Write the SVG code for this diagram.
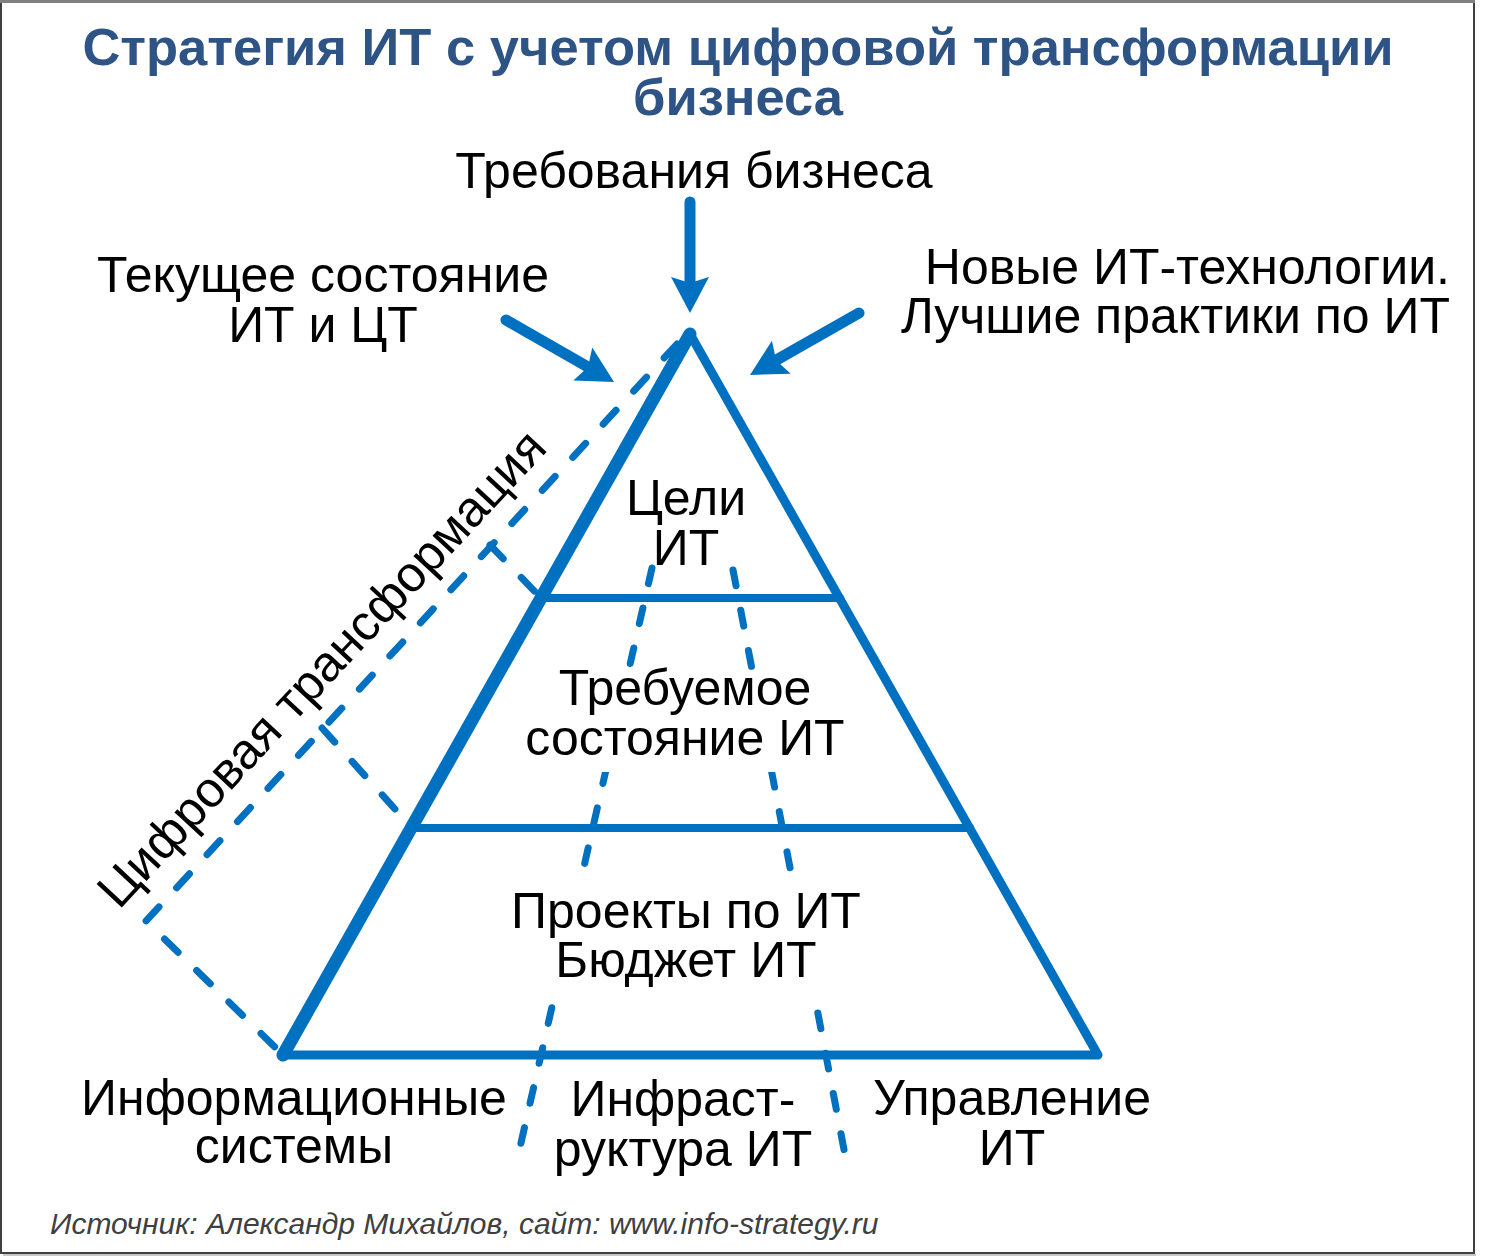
<svg xmlns="http://www.w3.org/2000/svg" width="1491" height="1257" viewBox="0 0 1491 1257">
<style>
.t{font-family:"Liberation Sans",Arial,sans-serif;font-size:50px;fill:#000;text-anchor:middle}
.title{font-family:"Liberation Sans",Arial,sans-serif;font-size:52.5px;font-weight:bold;fill:#2E5385;text-anchor:middle}
.src{font-family:"Liberation Sans",Arial,sans-serif;font-size:30px;font-style:italic;fill:#404040}
.solid{stroke:#0070C0;fill:none;stroke-linecap:round;stroke-linejoin:round}
.dash{stroke:#0070C0;fill:none;stroke-width:7;stroke-linecap:round;stroke-dasharray:16 25}
.odash{stroke:#0070C0;fill:none;stroke-width:7;stroke-linecap:round;stroke-dasharray:19 26}
.arrow{stroke:#0070C0;stroke-width:11;stroke-linecap:round;fill:none}
</style>
<defs>
<marker id="ah" markerUnits="userSpaceOnUse" markerWidth="40" markerHeight="40" refX="16" refY="0" orient="auto" overflow="visible">
<path d="M0,-19 L36,0 L0,19 L6,0 Z" fill="#0070C0"/>
</marker>
</defs>
<rect x="1" y="1" width="1473" height="1252" fill="#fff" stroke="#404040" stroke-width="2"/>
<line x1="0" y1="1.5" x2="1475" y2="1.5" stroke="#808080" stroke-width="3"/>
<line x1="3" y1="1255" x2="1476" y2="1255" stroke="#c8c8c8" stroke-width="2"/>

<g id="title">
<text class="title" x="738" y="65">Стратегия ИТ с учетом цифровой трансформации</text>
<text class="title" x="738" y="115">бизнеса</text>
</g>

<g id="connectors">
<path class="odash" d="M677,344 L146,921 L281,1053"/>
<path class="odash" d="M490,545 L541,598"/>
<path class="odash" d="M322,728 L412,828"/>
<path class="dash" d="M652,568 L518,1156"/>
<path class="dash" d="M733,570 L846,1160"/>
<line class="arrow" x1="690" y1="202" x2="690" y2="293" marker-end="url(#ah)"/>
<line class="arrow" x1="506" y1="320" x2="596.7" y2="372" marker-end="url(#ah)"/>
<line class="arrow" x1="859" y1="313" x2="767.4" y2="365.1" marker-end="url(#ah)"/>
</g>

<g id="pyramid">
<polygon class="solid" points="690,334 1098,1055 283,1055" stroke-width="9"/>
<line class="solid" x1="690" y1="334" x2="283" y2="1055" stroke-width="13"/>
<line class="solid" x1="540" y1="598" x2="840" y2="598" stroke-width="8"/>
<line class="solid" x1="410" y1="828" x2="970" y2="828" stroke-width="8"/>
</g>

<g id="level-goals">
<text class="t" x="686" y="515">Цели</text>
<text class="t" x="686" y="565">ИТ</text>
</g>
<g id="level-state">
<rect x="520" y="672" width="330" height="100" fill="#fff"/>
<text class="t" x="685" y="705">Требуемое</text>
<text class="t" x="685" y="755">состояние ИТ</text>
</g>
<g id="level-projects">
<rect x="505" y="884" width="360" height="110" fill="#fff"/>
<text class="t" x="686" y="928">Проекты по ИТ</text>
<text class="t" x="686" y="977">Бюджет ИТ</text>
</g>

<g id="req-business">
<text class="t" x="694" y="188">Требования бизнеса</text>
</g>
<g id="current-state">
<text class="t" x="323" y="292">Текущее состояние</text>
<text class="t" x="323" y="342">ИТ и ЦТ</text>
</g>
<g id="new-tech">
<text class="t" x="1450" y="284" style="text-anchor:end">Новые ИТ-технологии.</text>
<text class="t" x="1450" y="333" style="text-anchor:end">Лучшие практики по ИТ</text>
</g>
<g id="digital">
<text class="t" x="0" y="0" transform="translate(334,680) rotate(-47)">Цифровая трансформация</text>
</g>
<g id="infosys">
<text class="t" x="294" y="1115">Информационные</text>
<text class="t" x="294" y="1163">системы</text>
</g>
<g id="infra">
<text class="t" x="683" y="1116">Инфраст-</text>
<text class="t" x="683" y="1166">руктура ИТ</text>
</g>
<g id="mgmt">
<text class="t" x="1012" y="1115">Управление</text>
<text class="t" x="1012" y="1165">ИТ</text>
</g>
<g id="source">
<text class="src" x="50" y="1234">Источник: Александр Михайлов, сайт: www.info-strategy.ru</text>
</g>
</svg>
